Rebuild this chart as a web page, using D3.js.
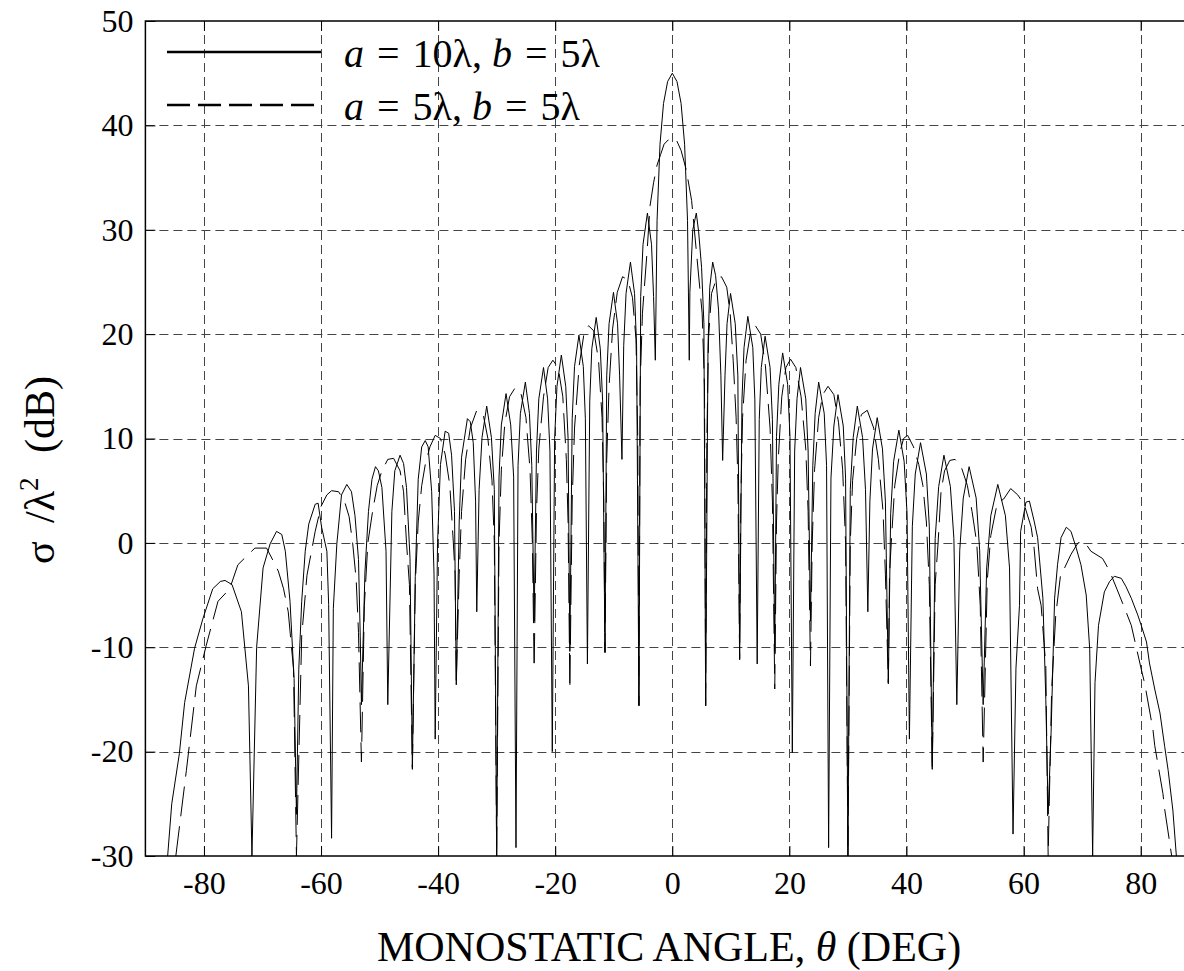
<!DOCTYPE html>
<html>
<head>
<meta charset="utf-8">
<script src="https://cdn.jsdelivr.net/npm/d3@7"></script>
<style>
    body { margin: 0; background: #fff; }
    svg { display: block; font-family: "Liberation Serif", "Times New Roman", serif; }
</style>
</head>
<body>
<script>
// tick values
const xTicks = [-80, -60, -40, -20, 0, 20, 40, 60, 80];
const yTicks = [-30, -20, -10, 0, 10, 20, 30, 40, 50];

// series: [angle (deg), sigma/lambda^2 (dB)]
// a = 10 lambda, b = 5 lambda  (solid)
const plateA10 = [
    [-86.2, -30], [-85.5, -25], [-84.2, -20.2], [-83.3, -15.3], [-81.6, -10.1], [-80.2, -7.3], [-78.5, -4.4], [-77.2, -3.7], [-76.4, -3.6], [-75.2, -4.0], [-73.6, -6.6], [-72.4, -13.7], [-71.8, -30],
    [-71.0, -10], [-69.9, -2.4], [-68.7, -0.1], [-67.6, 1.1], [-66.7, 0.8], [-66.1, -0.8], [-65.3, -5.6], [-64.6, -13], [-64.2, -26],
    [-63.8, -12.1], [-63.3, -5.6], [-62.7, -0.8], [-62.1, 1.8], [-61.0, 3.7], [-60.5, 3.8], [-59.9, 1.5], [-59.0, -0.8], [-58.7, -5.9], [-58.2, -28.3],
    [-57.9, -6.3], [-57.3, -0.1], [-56.5, 4.6], [-55.6, 5.6], [-54.8, 4.9], [-54.2, 2.6], [-53.6, -1.6], [-53.3, -9.0], [-53.1, -15.5],
    [-52.5, -2.8], [-51.9, 3.0], [-51.3, 6.1], [-50.7, 7.3], [-50.2, 6.9], [-49.6, 5.3], [-48.9, -0.8], [-48.6, -15.5],
    [-47.9, 3.0], [-47.4, 6.9], [-46.5, 8.4], [-45.9, 7.6], [-45.4, 5.3], [-44.8, -1.5], [-44.4, -21.5],
    [-43.9, -3.2], [-43.4, 6.1], [-42.8, 9.2], [-42.2, 9.8], [-41.7, 9.2], [-41.1, 4.9], [-40.7, -3], [-40.5, -18.8],
    [-40.1, 0], [-39.6, 7.5], [-38.8, 10.7], [-38.2, 10.5], [-37.7, 8.4], [-37.2, 3.0], [-36.9, -13.6],
    [-36.4, 2], [-36.0, 8.2], [-35.0, 11.9], [-34.5, 11.6], [-34.0, 9.6], [-33.6, 4], [-33.4, -6.6],
    [-33.0, 5.1], [-32.5, 10.1], [-31.7, 13.1], [-30.9, 10.1], [-30.4, 5.1], [-30.0, -30],
    [-29.6, 6.3], [-29.2, 11.3], [-28.4, 14.3], [-27.6, 11.3], [-27.1, 6.3], [-26.7, -29.2],
    [-26.35, 7.4], [-25.95, 12.4], [-25.1, 15.4], [-24.4, 12.4], [-24.0, 7.4], [-23.6, -7.5],
    [-23.2, 8.8], [-22.8, 13.8], [-22.0, 16.8], [-21.3, 13.8], [-20.9, 8.8], [-20.5, -20],
    [-20.1, 10], [-19.7, 15], [-18.95, 18.0], [-18.2, 15], [-17.8, 10], [-17.5, -10.4],
    [-17.1, 11.9], [-16.7, 16.9], [-15.95, 19.9], [-15.2, 16.9], [-14.85, 11.9], [-14.5, -11.6],
    [-14.1, 13.6], [-13.75, 18.6], [-13.0, 21.6], [-12.3, 18.6], [-11.9, 13.6], [-11.5, -10.5],
    [-11.2, 16], [-10.8, 21], [-10.05, 24.0], [-9.35, 21], [-9.0, 16], [-8.6, 8],
    [-8.3, 18.9], [-7.9, 23.9], [-7.15, 26.9], [-6.45, 23.9], [-6.1, 18.9], [-5.7, -15.6],
    [-5.4, 23.6], [-5.0, 28.6], [-4.25, 31.6], [-3.55, 28.6], [-3.2, 23.6], [-2.9, 17.5],
    [-2.6, 30.9], [-2.1, 38.2], [-1.5, 42.1], [-0.8, 44.2], [0, 45], [0.8, 44.2], [1.5, 42.1], [2.1, 38.2], [2.6, 30.9], [2.9, 17.5],
    [3.0, 24], [3.5, 30.0], [4.1, 31.6], [4.5, 29.8], [5.0, 26.4], [5.4, 21], [5.7, -15.6],
    [6.1, 18.9], [6.4, 24.5], [6.9, 26.9], [7.4, 25.6], [7.9, 22.3], [8.3, 16], [8.6, 7.9],
    [9.0, 16], [9.35, 21], [9.95, 23.9], [10.75, 21], [11.2, 16], [11.5, -11.2],
    [11.9, 13.7], [12.25, 18.7], [12.9, 21.7], [13.75, 18.7], [14.1, 13.7], [14.5, -11.6],
    [14.85, 11.8], [15.2, 16.8], [15.85, 19.8], [16.7, 16.8], [17.1, 11.8], [17.5, -10.5],
    [17.8, 10.2], [18.2, 15.2], [18.85, 18.2], [19.7, 15.2], [20.1, 10.2], [20.5, -20.1],
    [20.9, 8.8], [21.3, 13.8], [21.9, 16.8], [22.8, 13.8], [23.2, 8.8], [23.6, -7.5],
    [24.0, 7.4], [24.4, 12.4], [25.0, 15.4], [25.95, 12.4], [26.35, 7.4], [26.7, -29.2],
    [27.1, 6.2], [27.6, 11.2], [28.3, 14.2], [29.2, 11.2], [29.6, 6.2], [30.0, -30],
    [30.4, 5.1], [30.9, 10.1], [31.6, 13.1], [32.5, 10.1], [33.0, 5.1], [33.4, -6.6],
    [33.75, 4], [34.2, 9], [35.0, 12.0], [35.9, 9], [36.4, 4], [36.9, -13.4],
    [37.3, 2.8], [37.8, 7.8], [38.7, 10.8], [39.6, 7.8], [40.1, 2.8], [40.5, -18.8],
    [41.0, 1.6], [41.5, 6.6], [42.4, 9.6], [43.4, 6.6], [43.9, 1.6], [44.4, -21.7],
    [44.9, 0.4], [45.5, 5.4], [46.4, 8.4], [47.5, 5.4], [48.1, 0.4], [48.6, -15.5],
    [49.1, -0.7], [49.7, 4.3], [50.7, 7.3], [51.9, 4.3], [52.5, -0.7], [53.1, -15.5],
    [53.7, -2.4], [54.4, 2.6], [55.6, 5.6], [56.9, 2.6], [57.6, -2.4], [58.2, -27.9],
    [58.7, -12], [59.3, -6], [59.5, 1.1], [60.4, 3.9], [61.0, 4.0], [61.8, 2.1], [62.4, 0.5], [63.3, -5.3], [63.8, -15], [64.2, -26],
    [64.7, -18.2], [65.3, -5.3], [65.8, -2.1], [66.4, 0.5], [67.3, 1.5], [68.1, 1.1], [69.0, -0.5], [69.8, -2.1], [70.7, -5], [71.3, -10.2], [71.8, -30],
    [72.2, -13.4], [72.8, -7.9], [73.8, -4.7], [74.7, -3.7], [75.5, -3.2], [76.7, -3.4], [77.5, -4.2], [78.4, -5.3], [79.5, -6.9], [80.1, -7.9], [81.0, -9.5], [81.5, -11.5], [82.4, -14], [83.3, -16.3], [84.1, -19.5], [84.7, -21.8], [85.5, -25.6], [86.1, -30]
];

// a = 5 lambda, b = 5 lambda  (dashed)
const plateA5 = [
    [-84.8, -30], [-83.0, -21.8], [-81.3, -13.7], [-79.6, -9.8], [-77.6, -5.6], [-75.6, -4.4], [-74.2, -2.1], [-72.4, -1.1], [-71.3, -0.5], [-69.3, -0.5], [-68.1, -1.8], [-67.3, -2.7], [-66.4, -4.4], [-65.6, -6.6], [-64.7, -12.1], [-64.2, -30],
    [-63.3, -8.9], [-62.4, -3.1], [-61.0, 1.1], [-60.0, 3.5], [-59.0, 4.6], [-58.2, 5.0], [-57.0, 4.9], [-56.0, 4.0], [-55.2, 2.5], [-54.6, 0], [-54.0, -3.5], [-53.6, -8.6], [-53.1, -21],
    [-52.6, -6], [-52.0, 0], [-51.2, 3.0], [-50.4, 5.5], [-49.6, 6.9], [-48.6, 8.0], [-47.6, 8.1], [-46.5, 6.9], [-45.9, 4.9], [-45.4, 0], [-44.9, -4], [-44.4, -21.7],
    [-43.9, -4], [-43.4, 2], [-42.8, 5.5], [-42.2, 7.5], [-41.4, 9.2], [-40.5, 10.3], [-39.6, 10.0], [-38.8, 8.5], [-38.0, 5.5], [-37.4, 0], [-37.1, -3], [-36.9, -13.6],
    [-36.4, -3], [-36.0, 3], [-35.3, 8], [-34.5, 11], [-33.4, 12.7], [-32.3, 12.3], [-31.5, 10], [-30.8, 6], [-30.4, 0], [-30.0, -30],
    [-29.6, 0], [-29.2, 7], [-28.6, 11.5], [-27.8, 14], [-26.8, 14.9], [-25.8, 14.2], [-25.0, 12], [-24.3, 7], [-23.9, 0], [-23.6, -12],
    [-23.2, 3], [-22.8, 9], [-22.0, 14], [-21.2, 16.8], [-20.4, 17.5], [-19.5, 16.8], [-18.7, 14], [-18.1, 8], [-17.8, 2], [-17.5, -14],
    [-17.1, 4], [-16.7, 11], [-15.9, 17], [-15.1, 20], [-14.3, 20.8], [-13.4, 20.3], [-12.6, 17.5], [-12.0, 12], [-11.7, 4], [-11.5, -10.5],
    [-11.2, 8], [-10.8, 15], [-10.2, 20.5], [-9.4, 24], [-8.5, 25.5], [-7.6, 25.2], [-6.8, 23.5], [-6.2, 19.5], [-5.9, 10], [-5.7, -15.6],
    [-5.5, 15], [-5.1, 22], [-4.3, 28], [-3.8, 32.3], [-3.2, 34.5], [-2.6, 36.2], [-2.0, 37.2], [-1.4, 38.2], [-0.7, 38.6], [0, 38.8], [0.7, 38.6], [1.5, 37.6], [2.4, 35.7], [3.3, 32.8], [4.2, 27.4], [5.1, 22], [5.5, 15], [5.7, -15.6],
    [5.9, 10], [6.2, 19.7], [6.7, 23.9], [7.6, 25.4], [8.4, 25.5], [9.3, 24.5], [9.9, 21.9], [10.4, 17.5], [10.9, 12], [11.2, 6], [11.5, -11.1],
    [11.7, 4], [12.0, 12], [12.6, 17.5], [13.4, 20.3], [14.2, 20.8], [15.1, 20], [15.9, 17], [16.7, 11], [17.1, 4], [17.5, -14],
    [17.8, 2], [18.1, 8], [18.7, 14], [19.4, 16.8], [20.2, 17.6], [21.1, 16.8], [22.0, 14], [22.8, 9], [23.2, 3], [23.6, -11.8],
    [23.9, 0], [24.3, 7], [25.0, 12], [25.7, 14.2], [26.6, 15.0], [27.6, 14.2], [28.4, 11.5], [29.1, 7], [29.6, 0], [30.0, -30],
    [30.4, 0], [30.8, 6], [31.5, 10], [32.3, 12.3], [33.3, 12.7], [34.4, 11], [35.2, 8], [36.0, 3], [36.4, -3], [36.9, -13.5],
    [37.1, -3], [37.4, 0], [38.0, 5.5], [38.8, 8.5], [39.5, 10.0], [40.2, 10.3], [41.2, 9.2], [42.1, 7.5], [42.8, 5.5], [43.4, 2], [43.9, -4], [44.4, -21.7],
    [44.9, -4], [45.4, 0], [45.9, 4.9], [46.5, 6.9], [47.4, 7.9], [48.3, 8.0], [49.4, 7.2], [50.4, 5.5], [51.2, 3.0], [52.0, 0], [52.6, -6], [53.1, -21],
    [53.8, -3.6], [54.4, 0.7], [55.5, 3.8], [56.6, 4.2], [57.8, 5.2], [59.0, 4.6], [60.1, 3.7], [61.3, 1.5], [61.8, -0.5], [62.4, -4.4], [63.0, -6], [63.8, -11.8], [64.2, -30],
    [64.8, -14], [65.5, -6.9], [66.4, -2.7], [67.0, -2.4], [68.1, -1.1], [69.3, 0.0], [70.4, 0.1], [71.5, -0.8], [73.5, -1.5], [74.7, -2.7], [76.0, -4.5], [77.5, -6.6], [78.4, -7.9], [80.1, -12.1], [80.7, -13.5], [82.1, -17.9], [82.4, -19.4], [83.8, -24], [84.1, -25.5], [85.3, -30]
];

// legend: value of a for each row
const legendA = ["10", "5"];

const width = 1184, height = 971;
const serif = "'Liberation Serif', 'Times New Roman', serif";

const svg = d3.select("body").append("svg")
    .attr("width", width)
    .attr("height", height);

// axis frame: -90..90 deg, right edge falls just outside the picture
const x = d3.scaleLinear().domain([-90, 90]).range([145.4, 1199.2]);
const y = d3.scaleLinear().domain([-30, 50]).range([856, 21]);

svg.append("defs").append("clipPath").attr("id", "plotArea")
    .append("rect")
    .attr("x", x(-90)).attr("y", y(50))
    .attr("width", x(90) - x(-90)).attr("height", y(-30) - y(50));

//grid
const grid = svg.append("g").attr("stroke", "#444").attr("stroke-width", 1).attr("stroke-dasharray", "9,5");
grid.selectAll(".vgrid").data(xTicks).enter().append("line")
    .attr("x1", d => Math.round(x(d)) + 0.5).attr("x2", d => Math.round(x(d)) + 0.5)
    .attr("y1", y(50)).attr("y2", y(-30));
grid.selectAll(".hgrid").data(yTicks.filter(d => d > -30 && d < 50)).enter().append("line")
    .attr("y1", d => Math.round(y(d)) + 0.5).attr("y2", d => Math.round(y(d)) + 0.5)
    .attr("x1", x(-90)).attr("x2", x(90));

//curves
const line = d3.line()
    .x(d => x(d[0]))
    .y(d => y(d[1]));

const curves = svg.append("g").attr("clip-path", "url(#plotArea)");
curves.append("path")
    .datum(plateA10)
    .attr("fill", "none")
    .attr("stroke", "#000")
    .attr("stroke-width", 1)
    .attr("d", line);
curves.append("path")
    .datum(plateA5)
    .attr("fill", "none")
    .attr("stroke", "#000")
    .attr("stroke-width", 1)
    .attr("stroke-dasharray", "30,10")
    .attr("d", line);

//axes
const xAxis = d3.axisBottom(x).tickValues(xTicks).tickSizeInner(-10).tickSizeOuter(0)
    .tickPadding(15).tickFormat(d => String(d));
const yAxis = d3.axisLeft(y).tickValues(yTicks).tickSizeInner(-10).tickSizeOuter(0)
    .tickPadding(12).tickFormat(d => String(d));

const gx = svg.append("g").attr("transform", `translate(0,${y(-30)})`).call(xAxis);
const gy = svg.append("g").attr("transform", `translate(${x(-90)},0)`).call(yAxis);
const gTop = svg.append("g").attr("transform", `translate(0,${y(50)})`)
    .call(d3.axisTop(x).tickValues(xTicks).tickSizeInner(-10).tickSizeOuter(0).tickFormat(""));

[gx, gy, gTop].forEach(g => {
    g.attr("font-family", null).attr("font-size", null);
    g.select(".domain").remove();
    g.selectAll("text")
        .style("font-family", serif)
        .style("font-size", "32px")
        .attr("fill", "#000");
    g.selectAll("line").attr("stroke", "#000");
});

//frame
svg.append("rect")
    .attr("x", x(-90)).attr("y", y(50))
    .attr("width", x(90) - x(-90)).attr("height", y(-30) - y(50))
    .attr("fill", "none").attr("stroke", "#000").attr("stroke-width", 1.5);

//axis titles
const xt = svg.append("text")
    .attr("x", 669).attr("y", 961)
    .attr("text-anchor", "middle")
    .style("font-family", serif)
    .style("font-size", "42px");
xt.append("tspan").text("MONOSTATIC ANGLE, ");
xt.append("tspan").attr("font-style", "italic").text("θ");
xt.append("tspan").text(" (DEG)");

const yt = svg.append("text")
    .attr("transform", "translate(54,470) rotate(-90)")
    .attr("text-anchor", "middle")
    .style("font-family", serif)
    .style("font-size", "42px");
yt.append("tspan").text("σ");
yt.append("tspan").attr("dx", 8).text(" /λ");
yt.append("tspan").style("font-size", "27px").attr("dy", -16).text("2");
yt.append("tspan").attr("dy", 16).attr("dx", 14).text(" (dB)");

//legend
const legend = svg.append("g").style("font-family", serif).style("font-size", "40px");
legendA.forEach((a, i) => {
    const ly = 52 + i * 53;
    legend.append("line")
        .attr("x1", 167).attr("x2", i === 0 ? 321 : 316)
        .attr("y1", ly).attr("y2", ly)
        .attr("stroke", "#000").attr("stroke-width", 2.5)
        .attr("stroke-dasharray", i === 0 ? null : "23,8");
    const t = legend.append("text")
        .attr("x", 344).attr("y", ly + 15);
    t.append("tspan").attr("font-style", "italic").text("a");
    t.append("tspan").attr("dx", 13).text("=");
    t.append("tspan").attr("dx", 13).text(a + "λ,");
    t.append("tspan").attr("dx", 10).attr("font-style", "italic").text("b");
    t.append("tspan").attr("dx", 13).text("=");
    t.append("tspan").attr("dx", 13).text("5λ");
});
</script>
</body>
</html>
